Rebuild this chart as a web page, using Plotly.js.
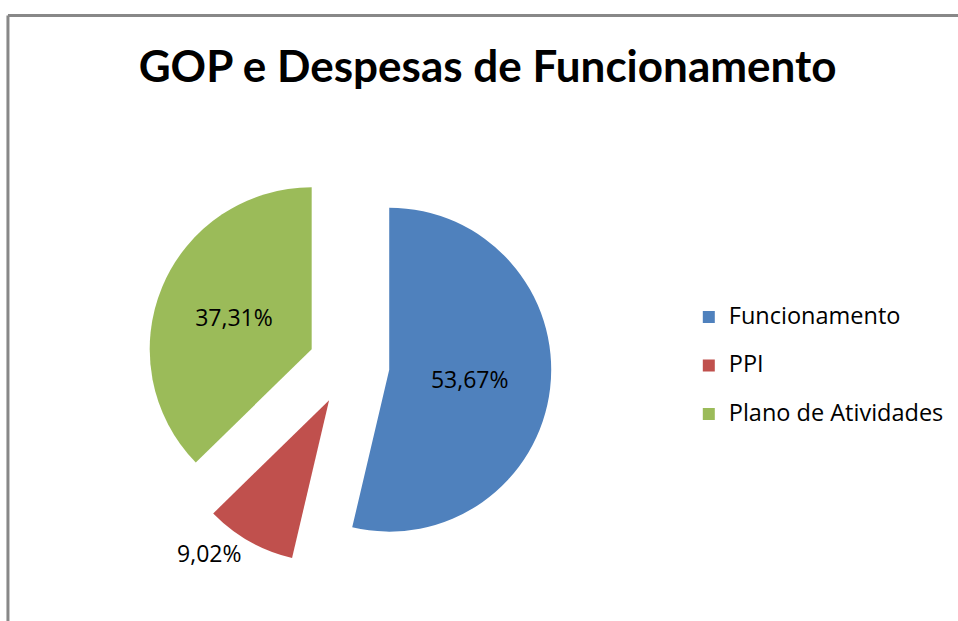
<!DOCTYPE html>
<html>
<head>
<meta charset="utf-8">
<script src="https://cdn.plot.ly/plotly-3.0.1.min.js"></script>
<style>html,body{margin:0;padding:0;background:#fff;}#chart{width:958px;height:621px;}</style>
</head>
<body>
<div id="chart"></div>
<script>
const categories = ['Funcionamento', 'PPI', 'Plano de Atividades'];
const values = [53.67, 9.02, 37.31];
const colors = ['#4F81BD', '#C0504D', '#9BBB59'];
const chartTitle = 'GOP e Despesas de Funcionamento';

const labelsText = values.map(v => v.toFixed(2).replace('.', ',') + '%');
// legend labels: larger visible text, second empty line to widen row spacing
const legendLabels = categories.map(c => '<span style="font-size:23.5px">' + c + '</span><br> ');

const trace = {
  type: 'pie',
  labels: legendLabels,
  values: values,
  text: labelsText,
  textinfo: 'text',
  textposition: ['inside', 'outside', 'inside'],
  insidetextorientation: 'horizontal',
  sort: false,
  direction: 'clockwise',
  rotation: 0,
  pull: [0.25, 0.25, 0.25],
  marker: {colors: colors, line: {width: 0}},
  textfont: {family: 'Open Sans, sans-serif', size: 23, color: '#000'},
  outsidetextfont: {family: 'Open Sans, sans-serif', size: 23, color: '#000'},
  insidetextfont: {family: 'Open Sans, sans-serif', size: 23, color: '#000'},
  domain: {x: [0.1529, 0.5757], y: [0.0862, 0.7383]},
  automargin: false,
  hoverinfo: 'percent'
};

const layout = {
  width: 958,
  height: 621,
  margin: {l: 0, r: 0, t: 0, b: 0},
  paper_bgcolor: '#fff',
  title: {
    text: '<b>' + chartTitle + '</b>',
    font: {family: 'Lato, sans-serif', size: 44, color: '#000'},
    x: 0.509, xanchor: 'center',
    y: 0.893, yanchor: 'middle'
  },
  showlegend: true,
  legend: {
    x: 0.719, xanchor: 'left',
    y: 0.3928, yanchor: 'middle',
    valign: 'top',
    font: {family: 'Open Sans, sans-serif', size: 17.5, color: '#000'},
    bgcolor: 'rgba(0,0,0,0)'
  },
  shapes: [
    {type: 'line', xref: 'paper', yref: 'paper', x0: 0.0083, x1: 1, y0: 0.9750, y1: 0.9750, line: {color: '#888', width: 3}},
    {type: 'line', xref: 'paper', yref: 'paper', x0: 0.0083, x1: 0.0083, y0: 0, y1: 0.9750, line: {color: '#888', width: 3}}
  ]
};

Plotly.newPlot('chart', [trace], layout, {displayModeBar: false, staticPlot: true});
</script>
</body>
</html>
